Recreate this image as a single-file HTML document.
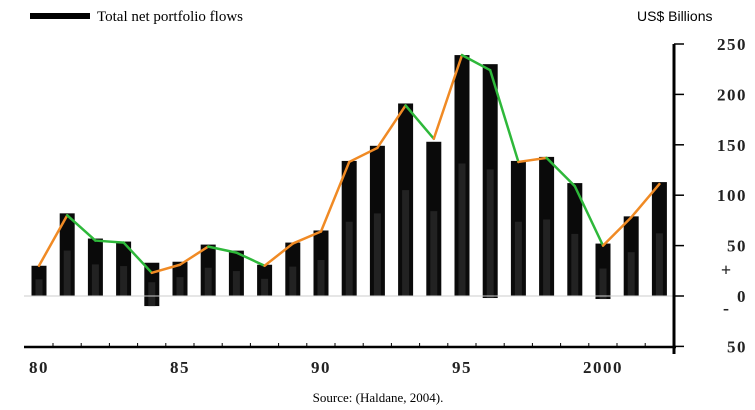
<!DOCTYPE html>
<html><head><meta charset="utf-8"><style>
body{margin:0;background:#fff;width:755px;height:410px;overflow:hidden}
svg{display:block}
</style></head><body>
<svg id="chart" width="755" height="410" viewBox="0 0 755 410">
<rect x="30" y="13" width="60" height="6" fill="#000"/>
<text x="97" y="21" font-family="Liberation Serif, serif" font-size="15" fill="#000">Total net portfolio flows</text>
<text x="637" y="21" font-family="Liberation Sans, sans-serif" font-size="14" fill="#000">US$ Billions</text>
<text x="378" y="402" text-anchor="middle" font-family="Liberation Serif, serif" font-size="13" fill="#000">Source: (Haldane, 2004).</text>
<text x="726" y="276" text-anchor="middle" font-family="Liberation Serif, serif" font-size="18" font-weight="bold" fill="#222">+</text>
<text x="726" y="314" text-anchor="middle" font-family="Liberation Serif, serif" font-size="18" font-weight="bold" fill="#222">-</text>
<g id="bars"></g><g id="lines"></g><g id="axes"></g>
</svg>
<script>
const years=[1980,1981,1982,1983,1984,1985,1986,1987,1988,1989,1990,1991,1992,1993,1994,1995,1996,1997,1998,1999,2000,2001,2002];
const barTop=[30,82,57,54,33,34,51,45,31,53,65,134,149,191,153,239,230,134,138,112,52,79,113];
const barBottom=[0,0,0,0,-10,0,0,0,0,0,0,0,0,0,0,0,-2,0,0,0,-3,0,0];
const netFlow=[30,80,55,53,23,31,49,43,30,52,64,133,147,189,156,239,224,133,137,109,50,78,111];
const yTicks=[250,200,150,100,50,0,-50];
const yTickLabels=["250","200","150","100","50","0","50"];
const xLabelYears=[1980,1985,1990,1995,2000];
const xLabels=["80","85","90","95","2000"];
const NS='http://www.w3.org/2000/svg';
const xs=y=>39+(y-1980)*28.2;
const ys=v=>296-v*1.008;
function mk(t,a,p){const e=document.createElementNS(NS,t);for(const k in a)e.setAttribute(k,a[k]);p.appendChild(e);return e;}
const gb=document.getElementById('bars'),gl=document.getElementById('lines'),ga=document.getElementById('axes');
years.forEach((yr,i)=>{
  const x=xs(yr)-7.5,t=ys(barTop[i]),b=ys(barBottom[i]);
  const r=mk('rect',{x:x,y:t,width:15,height:b-t,fill:'#0a0a0a'},gb);
  
  
  const ih=(b-t)*0.55;
  const r2=mk('rect',{x:x+4,y:b-ih,width:7,height:ih,fill:'#222'},gb);
  
  
});
for(let i=0;i<years.length-1;i++){
  const up=netFlow[i+1]>=netFlow[i];
  const l=mk('line',{x1:xs(years[i]),y1:ys(netFlow[i]),x2:xs(years[i+1]),y2:ys(netFlow[i+1]),stroke:up?'#f08a24':'#2eb83a','stroke-width':2.5,'stroke-linecap':'round'},gl);
  
  
}
const zl=mk('line',{x1:24,y1:ys(0),x2:674,y2:ys(0),stroke:'#ccc','stroke-width':1},gb);


const xa=mk('line',{x1:24,y1:347,x2:676,y2:347,stroke:'#000','stroke-width':2.5},ga);


const ya=mk('line',{x1:674,y1:44,x2:674,y2:354,stroke:'#000','stroke-width':3},ga);


years.forEach(yr=>{
  const tk=mk('line',{x1:xs(yr)+14,y1:343,x2:xs(yr)+14,y2:347,stroke:'#000','stroke-width':1},ga);
  
  
});
xLabelYears.forEach((yr,i)=>{
  const t=mk('text',{x:xs(yr),y:373,'text-anchor':'middle','font-family':'Liberation Serif, serif','font-size':17,'font-weight':'bold','letter-spacing':'1.5',fill:'#222'},ga);
  t.textContent=xLabels[i];
  
  
});
yTicks.forEach((v,i)=>{
  const tk=mk('line',{x1:674,y1:ys(v),x2:684,y2:ys(v),stroke:'#000','stroke-width':1.5},ga);
  
  
  const t=mk('text',{x:747,y:ys(v)+6,'text-anchor':'end','font-family':'Liberation Serif, serif','font-size':17,'font-weight':'bold','letter-spacing':'1.5',fill:'#222'},ga);
  t.textContent=yTickLabels[i];
  
  
});
</script>
</body></html>
